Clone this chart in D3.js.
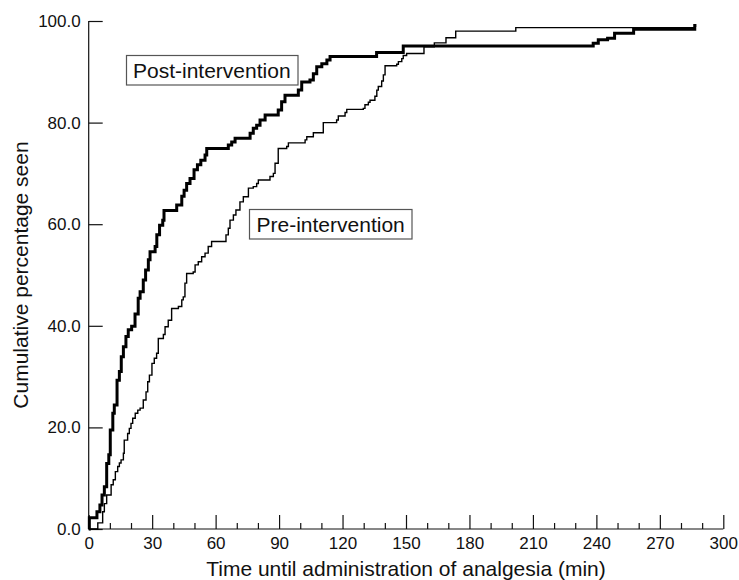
<!DOCTYPE html>
<html>
<head>
<meta charset="utf-8">
<script src="https://cdn.jsdelivr.net/npm/d3@7"></script>
<style>
  html, body { margin: 0; padding: 0; background: #fff; }
  svg { display: block; font-family: "Liberation Sans", Arial, Helvetica, sans-serif; }
</style>
</head>
<body>
<svg id="chart" width="739" height="580"></svg>
<script>
// ---- data ----
const postTimes = [0, 0.3, 3.9, 5.3, 6.3, 7.4, 8.5, 9.5, 10.2, 11.4, 12.1, 13.4, 14.5, 15.4, 16.4, 17.6, 18.7, 20.3, 21.9, 23.4, 24.3, 25.8, 26.9, 28.2, 29.0, 31.4, 32.2, 33.5, 35.0, 35.6, 41.6, 44.0, 45.1, 46.3, 47.9, 49.8, 51.4, 53.0, 55.0, 55.8, 66.0, 67.6, 69.2, 76.3, 77.8, 79.4, 81.0, 83.4, 89.6, 91.2, 92.8, 99.1, 100.7, 104.6, 106.2, 107.8, 110.2, 112.6, 114.1, 136.1, 148.7, 238.5, 240.9, 245.3, 248.6, 257.6, 286.5, 287.3];
const postPercents = [0, 2.2, 3.4, 4.7, 6.7, 8.3, 12.9, 14.6, 19.5, 22.8, 24.4, 29.3, 31.0, 33.9, 35.9, 37.9, 39.2, 39.9, 42.3, 45.4, 46.7, 49.0, 51.0, 53.0, 54.6, 55.6, 57.9, 59.8, 60.8, 62.7, 63.8, 65.5, 66.7, 68.0, 69.0, 70.7, 71.7, 72.6, 73.6, 74.9, 75.6, 76.2, 76.9, 77.9, 78.9, 79.5, 80.5, 81.5, 82.5, 84.1, 85.4, 86.4, 88.0, 88.4, 89.6, 91.0, 91.6, 92.3, 93.0, 93.8, 95.1, 95.6, 96.3, 96.6, 97.6, 98.4, 99.1, 99.1];

const preTimes = [0, 4.3, 6.6, 7.4, 8.5, 10.6, 11.6, 12.6, 13.7, 14.5, 15.3, 16.4, 16.8, 18.4, 19.2, 20.0, 20.8, 22.0, 23.2, 24.3, 25.8, 27.1, 27.9, 28.7, 29.9, 31.0, 32.1, 32.9, 35.3, 36.1, 37.6, 39.2, 42.4, 44.0, 44.7, 45.5, 46.3, 49.4, 50.3, 51.8, 53.4, 55.0, 56.5, 58.1, 64.9, 66.0, 66.8, 68.4, 69.6, 71.5, 73.1, 75.5, 77.8, 79.4, 80.2, 85.7, 87.3, 88.1, 89.6, 93.6, 94.4, 102.3, 103.1, 106.2, 110.9, 117.2, 118.0, 121.2, 122.0, 129.8, 130.6, 132.2, 133.0, 135.3, 136.2, 136.9, 138.5, 139.3, 140.1, 145.6, 146.4, 148.0, 148.7, 150.3, 158.5, 163.4, 168.9, 173.5, 201.9, 287.0];
const prePercents = [0, 1.2, 3.4, 5.0, 6.7, 8.7, 9.7, 11.3, 12.3, 13.0, 13.6, 14.9, 17.5, 18.8, 19.8, 20.8, 21.8, 22.8, 23.4, 23.8, 25.4, 27.0, 29.0, 30.3, 32.6, 33.6, 34.6, 37.5, 38.3, 39.8, 41.1, 43.4, 43.8, 45.1, 45.7, 48.4, 50.3, 50.6, 52.0, 52.6, 53.6, 54.3, 55.6, 56.6, 57.9, 59.2, 60.8, 61.8, 62.8, 64.4, 65.4, 67.1, 67.4, 68.0, 68.7, 69.4, 70.0, 72.0, 74.9, 75.3, 76.0, 76.6, 77.2, 78.0, 80.0, 80.5, 81.3, 82.0, 82.6, 82.8, 83.5, 84.0, 84.4, 85.2, 86.4, 87.1, 88.2, 89.4, 91.2, 91.5, 92.0, 92.6, 93.2, 93.6, 94.9, 95.7, 96.7, 98.0, 98.7, 98.7];

const xMajorTicks = [0, 30, 60, 90, 120, 150, 180, 210, 240, 270, 300];
const xMinorTicks = [10, 20, 40, 50, 70, 80, 100, 110, 130, 140, 160, 170, 190, 200, 220, 230, 250, 260, 280, 290];
const yTicks = [0, 20, 40, 60, 80, 100];
const xTitle = "Time until administration of analgesia (min)";
const yTitle = "Cumulative percentage seen";
const postLabel = "Post-intervention";
const preLabel = "Pre-intervention";

// ---- chart ----
const svg = d3.select("#chart");
const x = d3.scaleLinear().domain([0, 300]).range([88.7, 723.3]);
const y = d3.scaleLinear().domain([0, 100]).range([529, 21]);

const ink = "#111";

// x axis (ticks pointing inward)
const xAxisMajor = d3.axisBottom(x).tickValues(xMajorTicks).tickSize(-14).tickPadding(24).tickFormat(d3.format("d"));
const gx = svg.append("g").attr("transform", `translate(0,${y(0)})`).call(xAxisMajor);
gx.select(".domain").attr("d", `M${x(0)},0H${x(300)}`).attr("stroke", ink).attr("stroke-width", 1.2);
gx.selectAll(".tick line").attr("stroke", ink).attr("stroke-width", 1.2);
gx.selectAll(".tick text").attr("font-size", 17).attr("fill", ink).attr("dy", null).attr("y", 20);
const xAxisMinor = d3.axisBottom(x).tickValues(xMinorTicks).tickSize(-6).tickFormat("");
const gxm = svg.append("g").attr("transform", `translate(0,${y(0)})`).call(xAxisMinor);
gxm.select(".domain").remove();
gxm.selectAll(".tick line").attr("stroke", ink).attr("stroke-width", 1.2);

// y axis
const yAxis = d3.axisLeft(y).tickValues(yTicks).tickSize(-14).tickPadding(8).tickFormat(d3.format(".1f"));
const gy = svg.append("g").attr("transform", `translate(${x(0)},0)`).call(yAxis);
gy.select(".domain").attr("d", `M0,${y(0)}V${y(100)}`).attr("stroke", ink).attr("stroke-width", 1.2);
gy.selectAll(".tick line").attr("stroke", ink).attr("stroke-width", 1.2);
gy.selectAll(".tick text").attr("font-size", 17).attr("fill", ink).attr("x", -8);

// axis titles
svg.append("text").attr("x", (x(0) + x(300)) / 2).attr("y", 576)
  .attr("text-anchor", "middle").attr("font-size", 21).attr("fill", ink).text(xTitle);
svg.append("text").attr("transform", `translate(28,${(y(0) + y(100)) / 2}) rotate(-90)`)
  .attr("text-anchor", "middle").attr("font-size", 21).attr("fill", ink).text(yTitle);

// step curves
const line = d3.line().x(d => x(d[0])).y(d => y(d[1])).curve(d3.curveStepAfter);
const preData = preTimes.map((t, i) => [t, prePercents[i]]);
const postData = postTimes.map((t, i) => [t, postPercents[i]]);

svg.append("path").datum(preData).attr("d", line)
  .attr("fill", "none").attr("stroke", "#000").attr("stroke-width", 1.4);
svg.append("path").datum(postData).attr("d", line)
  .attr("fill", "none").attr("stroke", "#000").attr("stroke-width", 3);

// labels in boxes
function boxLabel(text, bx, by, bw, bh, tx, ty) {
  svg.append("rect").attr("x", bx).attr("y", by).attr("width", bw).attr("height", bh)
    .attr("fill", "#fff").attr("stroke", "#555").attr("stroke-width", 1.2);
  svg.append("text").attr("x", tx).attr("y", ty).attr("font-size", 21).attr("fill", ink).text(text);
}
boxLabel(postLabel, 126.5, 55.5, 171.5, 29.5, 133, 78.3);
boxLabel(preLabel, 249.5, 209.5, 162.5, 29.5, 256.5, 231.7);
</script>
</body>
</html>
